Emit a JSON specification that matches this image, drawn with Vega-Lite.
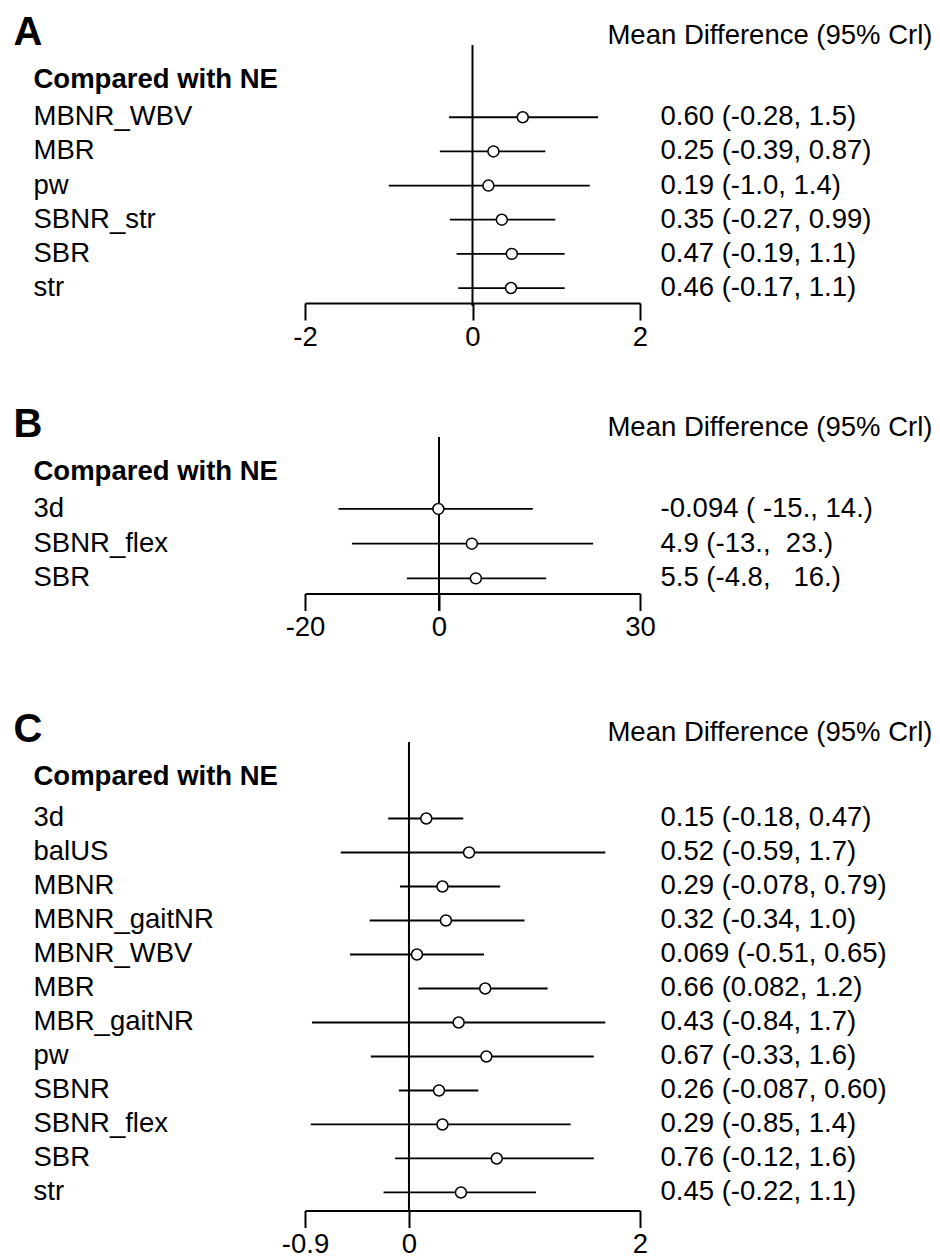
{
  "$schema": "https://vega.github.io/schema/vega-lite/v6.json",
  "background": "white",
  "padding": {"left": 13, "top": 12, "right": 0, "bottom": 0},
  "config": {
    "font": "Liberation Sans",
    "view": {"stroke": null},
    "axis": {"labelFont": "Liberation Sans", "titleFont": "Liberation Sans", "grid": false}
  },
  "datasets": {
    "A": [
      {"name": "MBNR_WBV", "mean": 0.60, "lower": -0.28, "upper": 1.5, "ci": "0.60 (-0.28, 1.5)"},
      {"name": "MBR", "mean": 0.25, "lower": -0.39, "upper": 0.87, "ci": "0.25 (-0.39, 0.87)"},
      {"name": "pw", "mean": 0.19, "lower": -1.0, "upper": 1.4, "ci": "0.19 (-1.0, 1.4)"},
      {"name": "SBNR_str", "mean": 0.35, "lower": -0.27, "upper": 0.99, "ci": "0.35 (-0.27, 0.99)"},
      {"name": "SBR", "mean": 0.47, "lower": -0.19, "upper": 1.1, "ci": "0.47 (-0.19, 1.1)"},
      {"name": "str", "mean": 0.46, "lower": -0.17, "upper": 1.1, "ci": "0.46 (-0.17, 1.1)"}
    ],
    "B": [
      {"name": "3d", "mean": -0.094, "lower": -15, "upper": 14, "ci": "-0.094 (\u00a0-15., 14.)"},
      {"name": "SBNR_flex", "mean": 4.9, "lower": -13, "upper": 23, "ci": "4.9 (-13., \u00a023.)"},
      {"name": "SBR", "mean": 5.5, "lower": -4.8, "upper": 16, "ci": "5.5 (-4.8, \u00a0\u00a016.)"}
    ],
    "C": [
      {"name": "3d", "mean": 0.15, "lower": -0.18, "upper": 0.47, "ci": "0.15 (-0.18, 0.47)"},
      {"name": "balUS", "mean": 0.52, "lower": -0.59, "upper": 1.7, "ci": "0.52 (-0.59, 1.7)"},
      {"name": "MBNR", "mean": 0.29, "lower": -0.078, "upper": 0.79, "ci": "0.29 (-0.078, 0.79)"},
      {"name": "MBNR_gaitNR", "mean": 0.32, "lower": -0.34, "upper": 1.0, "ci": "0.32 (-0.34, 1.0)"},
      {"name": "MBNR_WBV", "mean": 0.069, "lower": -0.51, "upper": 0.65, "ci": "0.069 (-0.51, 0.65)"},
      {"name": "MBR", "mean": 0.66, "lower": 0.082, "upper": 1.2, "ci": "0.66 (0.082, 1.2)"},
      {"name": "MBR_gaitNR", "mean": 0.43, "lower": -0.84, "upper": 1.7, "ci": "0.43 (-0.84, 1.7)"},
      {"name": "pw", "mean": 0.67, "lower": -0.33, "upper": 1.6, "ci": "0.67 (-0.33, 1.6)"},
      {"name": "SBNR", "mean": 0.26, "lower": -0.087, "upper": 0.60, "ci": "0.26 (-0.087, 0.60)"},
      {"name": "SBNR_flex", "mean": 0.29, "lower": -0.85, "upper": 1.4, "ci": "0.29 (-0.85, 1.4)"},
      {"name": "SBR", "mean": 0.76, "lower": -0.12, "upper": 1.6, "ci": "0.76 (-0.12, 1.6)"},
      {"name": "str", "mean": 0.45, "lower": -0.22, "upper": 1.1, "ci": "0.45 (-0.22, 1.1)"}
    ]
  },
  "bounds": "flush",
  "spacing": 131,
  "vconcat": [
    {
      "width": 335,
      "height": 261,
      "data": {"name": "A"},
      "layer": [
        {
          "data": {"values": [{}]},
          "mark": {"type": "rule", "color": "black", "strokeWidth": 2},
          "encoding": {
            "x": {"datum": 0, "type": "quantitative", "scale": {"domain": [-2, 2], "nice": false, "zero": false}}
          }
        },
        {
          "layer": [
            {
              "mark": {"type": "rule", "color": "black", "strokeWidth": 1.8},
              "encoding": {
                "x": {
                  "field": "lower", "type": "quantitative",
                  "axis": {
                    "values": [-2, 0, 2], "labelExpr": "'' + datum.value", "offset": -3,
                    "title": "A", "titleX": -292, "titleY": -259, "titleAngle": 0, "titleAlign": "left",
                    "titleBaseline": "alphabetic", "titleFontSize": 40, "titleFontWeight": "bold", "titleColor": "black",
                    "labelFontSize": 27.5, "labelColor": "black", "labelFlush": false, "labelOverlap": false, "labelPadding": 3,
                    "tickSize": 17, "tickWidth": 2, "tickColor": "black", "domainColor": "black", "domainWidth": 2
                  }
                },
                "x2": {"field": "upper"},
                "y": {
                  "field": "name", "type": "nominal", "sort": null,
                  "scale": {"type": "band", "paddingInner": 0, "paddingOuter": 0.821, "align": 0.984},
                  "axis": {
                    "ticks": false, "domain": false, "labelAlign": "left", "labelPadding": 272, "labelFontSize": 27.5,
                    "labelColor": "black", "labelLimit": 400, "labelOverlap": false,
                    "title": "Compared with NE", "titleAngle": 0, "titleAlign": "left", "titleBaseline": "alphabetic",
                    "titleX": -272, "titleY": 42, "titleFontSize": 27.5, "titleFontWeight": "bold", "titleColor": "black", "titleLimit": 600
                  }
                }
              }
            },
            {
              "mark": {"type": "point", "shape": "circle", "filled": true, "fill": "white", "stroke": "black", "strokeWidth": 1.5, "size": 120, "opacity": 1},
              "encoding": {
                "x": {"field": "mean", "type": "quantitative"},
                "y": {"field": "name", "type": "nominal", "sort": null}
              }
            }
          ]
        },
        {
          "mark": {"type": "point", "opacity": 0},
          "encoding": {
            "x": {"field": "mean", "type": "quantitative"},
            "y": {
              "field": "ci", "type": "nominal", "sort": null,
              "scale": {"type": "band", "paddingInner": 0, "paddingOuter": 0.821, "align": 0.984},
              "axis": {
                "orient": "right", "ticks": false, "domain": false, "labelAlign": "left", "labelPadding": 20,
                "labelFontSize": 27.5, "labelColor": "black", "labelLimit": 400, "labelOverlap": false,
                "title": "Mean Difference (95% Crl)", "titleAngle": 0, "titleAlign": "right", "titleBaseline": "alphabetic",
                "titleX": 292, "titleY": -2, "titleFontSize": 27.5, "titleFontWeight": "normal", "titleColor": "black", "titleLimit": 600
              }
            }
          }
        }
      ],
      "resolve": {"scale": {"y": "independent"}}
    },
    {
      "width": 335,
      "height": 173.5,
      "data": {"name": "B"},
      "layer": [
        {
          "data": {"values": [{}]},
          "mark": {"type": "rule", "color": "black", "strokeWidth": 2},
          "encoding": {
            "x": {"datum": 0, "type": "quantitative", "scale": {"domain": [-20, 30], "nice": false, "zero": false}}
          }
        },
        {
          "layer": [
            {
              "mark": {"type": "rule", "color": "black", "strokeWidth": 1.8},
              "encoding": {
                "x": {
                  "field": "lower", "type": "quantitative",
                  "axis": {
                    "values": [-20, 0, 30], "labelExpr": "'' + datum.value", "offset": -17,
                    "title": "B", "titleX": -292, "titleY": -157.5, "titleAngle": 0, "titleAlign": "left",
                    "titleBaseline": "alphabetic", "titleFontSize": 40, "titleFontWeight": "bold", "titleColor": "black",
                    "labelFontSize": 27.5, "labelColor": "black", "labelFlush": false, "labelOverlap": false, "labelPadding": 3,
                    "tickSize": 17, "tickWidth": 2, "tickColor": "black", "domainColor": "black", "domainWidth": 2
                  }
                },
                "x2": {"field": "upper"},
                "y": {
                  "field": "name", "type": "nominal", "sort": null,
                  "scale": {"type": "band", "paddingInner": 0, "paddingOuter": 1, "align": 0.787},
                  "axis": {
                    "ticks": false, "domain": false, "labelAlign": "left", "labelPadding": 272, "labelFontSize": 27.5,
                    "labelColor": "black", "labelLimit": 400, "labelOverlap": false,
                    "title": "Compared with NE", "titleAngle": 0, "titleAlign": "left", "titleBaseline": "alphabetic",
                    "titleX": -272, "titleY": 42, "titleFontSize": 27.5, "titleFontWeight": "bold", "titleColor": "black", "titleLimit": 600
                  }
                }
              }
            },
            {
              "mark": {"type": "point", "shape": "circle", "filled": true, "fill": "white", "stroke": "black", "strokeWidth": 1.5, "size": 120, "opacity": 1},
              "encoding": {
                "x": {"field": "mean", "type": "quantitative"},
                "y": {"field": "name", "type": "nominal", "sort": null}
              }
            }
          ]
        },
        {
          "mark": {"type": "point", "opacity": 0},
          "encoding": {
            "x": {"field": "mean", "type": "quantitative"},
            "y": {
              "field": "ci", "type": "nominal", "sort": null,
              "scale": {"type": "band", "paddingInner": 0, "paddingOuter": 1, "align": 0.787},
              "axis": {
                "orient": "right", "ticks": false, "domain": false, "labelAlign": "left", "labelPadding": 20,
                "labelFontSize": 27.5, "labelColor": "black", "labelLimit": 400, "labelOverlap": false,
                "title": "Mean Difference (95% Crl)", "titleAngle": 0, "titleAlign": "right", "titleBaseline": "alphabetic",
                "titleX": 292, "titleY": -2, "titleFontSize": 27.5, "titleFontWeight": "normal", "titleColor": "black", "titleLimit": 600
              }
            }
          }
        }
      ],
      "resolve": {"scale": {"y": "independent"}}
    },
    {
      "width": 335,
      "height": 468.5,
      "data": {"name": "C"},
      "layer": [
        {
          "data": {"values": [{}]},
          "mark": {"type": "rule", "color": "black", "strokeWidth": 2},
          "encoding": {
            "x": {"datum": 0, "type": "quantitative", "scale": {"domain": [-0.9, 2], "nice": false, "zero": false}}
          }
        },
        {
          "layer": [
            {
              "mark": {"type": "rule", "color": "black", "strokeWidth": 1.8},
              "encoding": {
                "x": {
                  "field": "lower", "type": "quantitative",
                  "axis": {
                    "values": [-0.9, 0, 2], "labelExpr": "'' + datum.value",
                    "title": "C", "titleX": -292, "titleY": -469.5, "titleAngle": 0, "titleAlign": "left",
                    "titleBaseline": "alphabetic", "titleFontSize": 40, "titleFontWeight": "bold", "titleColor": "black",
                    "labelFontSize": 27.5, "labelColor": "black", "labelFlush": false, "labelOverlap": false, "labelPadding": 3,
                    "tickSize": 17, "tickWidth": 2, "tickColor": "black", "domainColor": "black", "domainWidth": 2
                  }
                },
                "x2": {"field": "upper"},
                "y": {
                  "field": "name", "type": "nominal", "sort": null,
                  "scale": {"type": "band", "paddingInner": 0, "paddingOuter": 0.89, "align": 0.983},
                  "axis": {
                    "ticks": false, "domain": false, "labelAlign": "left", "labelPadding": 272, "labelFontSize": 27.5,
                    "labelColor": "black", "labelLimit": 400, "labelOverlap": false,
                    "title": "Compared with NE", "titleAngle": 0, "titleAlign": "left", "titleBaseline": "alphabetic",
                    "titleX": -272, "titleY": 42, "titleFontSize": 27.5, "titleFontWeight": "bold", "titleColor": "black", "titleLimit": 600
                  }
                }
              }
            },
            {
              "mark": {"type": "point", "shape": "circle", "filled": true, "fill": "white", "stroke": "black", "strokeWidth": 1.5, "size": 120, "opacity": 1},
              "encoding": {
                "x": {"field": "mean", "type": "quantitative"},
                "y": {"field": "name", "type": "nominal", "sort": null}
              }
            }
          ]
        },
        {
          "mark": {"type": "point", "opacity": 0},
          "encoding": {
            "x": {"field": "mean", "type": "quantitative"},
            "y": {
              "field": "ci", "type": "nominal", "sort": null,
              "scale": {"type": "band", "paddingInner": 0, "paddingOuter": 0.89, "align": 0.983},
              "axis": {
                "orient": "right", "ticks": false, "domain": false, "labelAlign": "left", "labelPadding": 20,
                "labelFontSize": 27.5, "labelColor": "black", "labelLimit": 400, "labelOverlap": false,
                "title": "Mean Difference (95% Crl)", "titleAngle": 0, "titleAlign": "right", "titleBaseline": "alphabetic",
                "titleX": 292, "titleY": -2, "titleFontSize": 27.5, "titleFontWeight": "normal", "titleColor": "black", "titleLimit": 600
              }
            }
          }
        }
      ],
      "resolve": {"scale": {"y": "independent"}}
    }
  ]
}
